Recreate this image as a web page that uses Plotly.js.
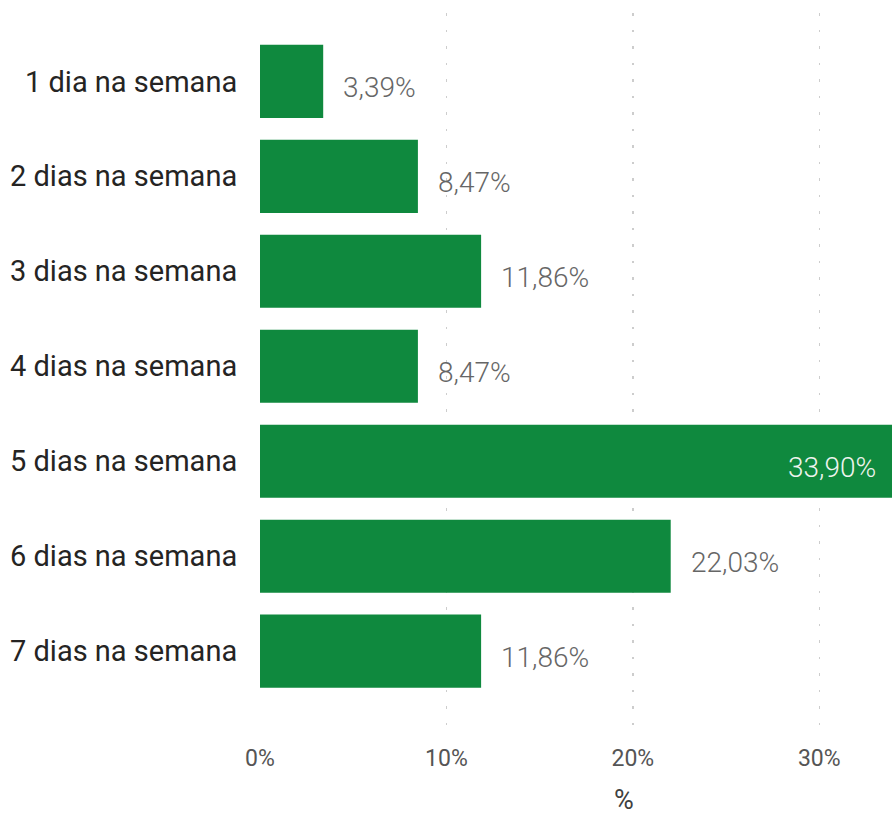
<!DOCTYPE html>
<html>
<head>
<meta charset="utf-8">
<script src="https://cdn.plot.ly/plotly-3.0.1.min.js"></script>
<style>html,body{margin:0;padding:0;background:#fff;}#chart{width:892px;height:821px;}</style>
</head>
<body>
<div id="chart"></div>
<script>
var categories = ["1 dia na semana","2 dias na semana","3 dias na semana","4 dias na semana","5 dias na semana","6 dias na semana","7 dias na semana"];
var values = [3.39, 8.47, 11.86, 8.47, 33.90, 22.03, 11.86];
var tickValues = [0, 10, 20, 30];
var tickLabels = ["0%", "10%", "20%", "30%"];
var axisTitle = "%";

var FONT = "Roboto, 'Liberation Sans', sans-serif";
var maxVal = Math.max.apply(null, values);

function fmt(v){ return v.toFixed(2).replace('.', ',') + '%'; }

var annotations = values.map(function(v, i){
  var inside = (v === maxVal);
  return {
    x: v, y: categories[i], xref: 'x', yref: 'y',
    text: fmt(v), showarrow: false,
    xanchor: inside ? 'right' : 'left',
    xshift: inside ? -14 : 18,
    yshift: -6,
    font: {family: FONT, size: 28, weight: 300, color: inside ? '#EEF4EE' : '#666666'}
  };
});

annotations.push({
  x: 19.5, xref: 'x', y: 0, yref: 'paper', yshift: -70,
  text: axisTitle, showarrow: false, xanchor: 'center', yanchor: 'middle',
  font: {family: FONT, size: 27, color: '#404040'}
});

var trace = {
  type: 'bar', orientation: 'h',
  x: values, y: categories,
  marker: {color: '#0F893E'},
  hoverinfo: 'none'
};

var layout = {
  width: 892, height: 821,
  margin: {l: 260, r: 0, t: 13, b: 91},
  paper_bgcolor: '#ffffff', plot_bgcolor: '#ffffff',
  bargap: 0.23,
  showlegend: false,
  font: {family: FONT},
  xaxis: {
    range: [0, maxVal],
    tickvals: tickValues, ticktext: tickLabels,
    showgrid: true, gridcolor: '#CDCDCD', griddash: '2.5px,14px', gridwidth: 1.5,
    zeroline: false, showline: false,
    ticks: 'outside', ticklen: 7, tickcolor: 'rgba(0,0,0,0)',
    tickfont: {family: FONT, size: 23, color: '#555555'}
  },
  yaxis: {
    type: 'category',
    categoryorder: 'array', categoryarray: categories,
    range: [6.83, -0.72],
    showgrid: false, zeroline: false, showline: false,
    ticks: 'outside', ticklen: 16, tickcolor: 'rgba(0,0,0,0)',
    tickfont: {family: FONT, size: 29, color: '#252423'}
  },
  annotations: annotations
};

Plotly.newPlot('chart', [trace], layout, {displayModeBar: false, staticPlot: true});
</script>
</body>
</html>
